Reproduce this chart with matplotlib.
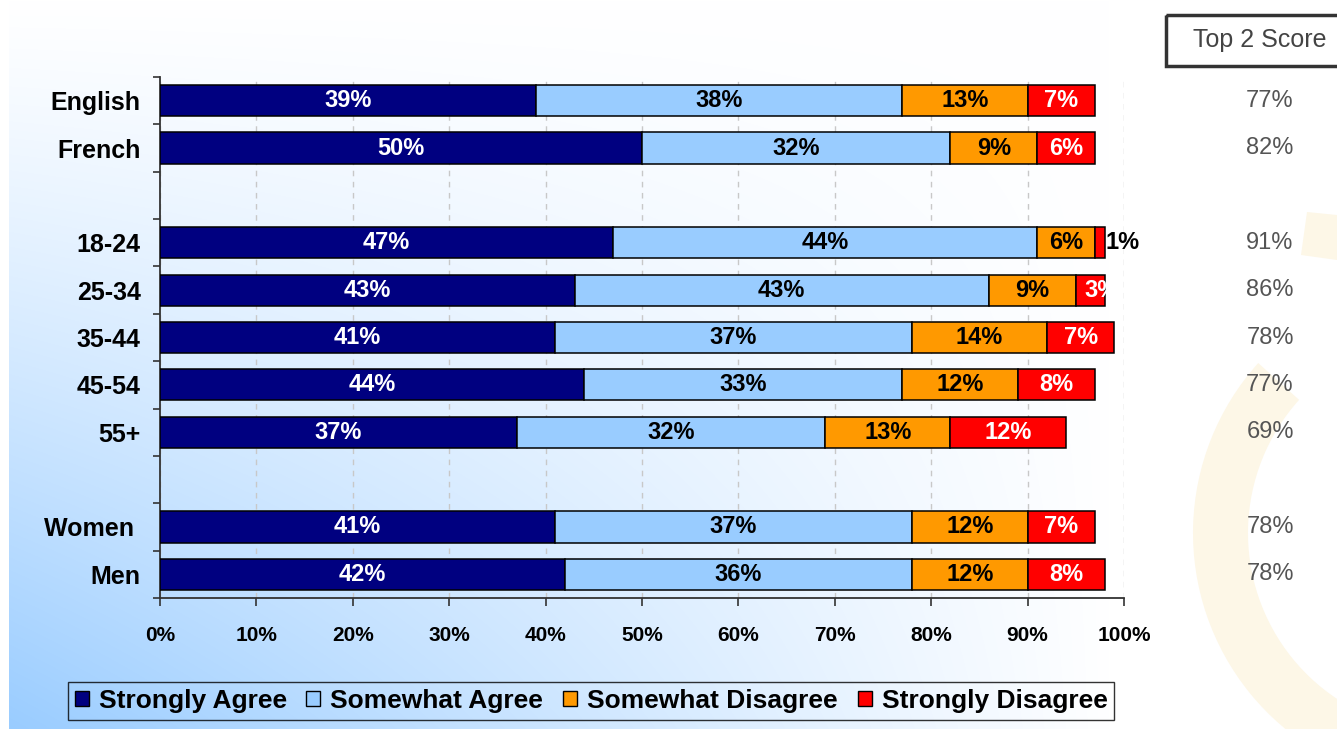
import numpy as np
import matplotlib
matplotlib.use("Agg")
import matplotlib.pyplot as plt
from matplotlib.patches import Patch, Rectangle, Wedge, Polygon
import matplotlib.transforms as mtransforms

plt.rcParams['font.family'] = ['Liberation Sans', 'DejaVu Sans']

# ---------------- data ----------------
categories = ["English", "French", "18-24", "25-34", "35-44", "45-54", "55+", "Women ", "Men"]
group_sizes = [2, 5, 2]
strongly_agree = [39, 50, 47, 43, 41, 44, 37, 41, 42]
somewhat_agree = [38, 32, 44, 43, 37, 33, 32, 37, 36]
somewhat_disagree = [13, 9, 6, 9, 14, 12, 13, 12, 12]
strongly_disagree = [7, 6, 1, 3, 7, 8, 12, 7, 8]
top2_score = [77, 82, 91, 86, 78, 77, 69, 78, 78]
series_names = ["Strongly Agree", "Somewhat Agree", "Somewhat Disagree", "Strongly Disagree"]
x_tick_values = [0, 10, 20, 30, 40, 50, 60, 70, 80, 90, 100]
x_tick_labels = ["0%", "10%", "20%", "30%", "40%", "50%", "60%", "70%", "80%", "90%", "100%"]

# ---------------- styles ----------------
colors = ["#000080", "#99CCFF", "#FF9900", "#FF0000"]
label_colors = ["white", "black", "black", "white"]

# positions: groups separated by an empty slot
positions = []
p = 0
for g in group_sizes:
    for _ in range(g):
        positions.append(p)
        p += 1
    p += 1
n_slots = p - 1

W, H = 1337, 729
fig = plt.figure(figsize=(W / 100, H / 100), dpi=100)
fig.patch.set_facecolor("white")

# background axes in pixel coordinates
bg = fig.add_axes([0, 0, 1, 1], zorder=0)
bg.set_xlim(0, W)
bg.set_ylim(H, 0)
bg.axis("off")

X, Y = np.meshgrid(np.arange(W), np.arange(H))
gx = np.clip(1 - (X - 9) / 1100.0, 0, 1)
hy = (Y / H) ** 1.19
f = gx * hy
base = np.array([153, 204, 255]) / 255.0
img = (1 - f[..., None]) * 1.0 + f[..., None] * base
img[X < 9] = 1.0
bg.imshow(img, extent=(0, W, H, 0), aspect="auto", interpolation="bilinear", zorder=0)

ring_color = "#fdf7e7"
bg.add_patch(Wedge((1447, 533), 254, 60, 222, width=55, facecolor=ring_color, edgecolor="none", zorder=1))
bg.add_patch(Polygon([(1307, 212), (1337, 215), (1337, 260), (1301, 255)], closed=True,
                     facecolor=ring_color, edgecolor="none", zorder=1))

# Top 2 Score box
bg.add_patch(Rectangle((1166, 15), 200, 51, fill=False, edgecolor="#333333", linewidth=2.5, zorder=2))
bg.text(1260, 40, "Top 2 Score", ha="center", va="center", fontsize=18, color="#444444", zorder=3)

# main axes
ax = fig.add_axes([160 / W, 1 - 598 / H, 964 / W, 521 / H], zorder=1)
ax.patch.set_alpha(0)

series = [strongly_agree, somewhat_agree, somewhat_disagree, strongly_disagree]
left = np.zeros(len(categories))
for si, vals in enumerate(series):
    vals = np.array(vals, dtype=float)
    bars = ax.barh(positions, vals, left=left, height=0.66, color=colors[si],
                   edgecolor="black", linewidth=1.1, zorder=3)
    for bi, (rect, v) in enumerate(zip(bars, vals)):
        y = positions[bi]
        txt = f"{int(v)}%"
        if v < 2:
            ax.text(left[bi] + v + 0.1, y, txt, ha="left", va="center", fontsize=17,
                    fontweight="bold", color="black", zorder=5, clip_on=False)
        elif v < 5:
            t = ax.text(left[bi] + 0.9, y, txt, ha="left", va="center", fontsize=17,
                        fontweight="bold", color=label_colors[si], zorder=5)
            t.set_clip_path(rect)
        else:
            ax.text(left[bi] + v / 2, y, txt, ha="center", va="center", fontsize=17,
                    fontweight="bold", color=label_colors[si], zorder=5)
    left = left + vals

ax.set_xlim(0, 100)
ax.set_ylim(n_slots - 0.5, -0.5)

ax.set_xticks(x_tick_values)
ax.set_xticklabels(x_tick_labels, fontsize=15, fontweight="bold")
ax.tick_params(axis="x", direction="out", length=6, width=1.2, color="#333333", pad=14)

ax.set_yticks(np.arange(-0.5, n_slots, 1.0))
ax.set_yticklabels([])
ax.set_yticks(positions, minor=True)
ax.set_yticklabels(categories, minor=True, fontsize=18, fontweight="bold")
ax.tick_params(axis="y", which="major", direction="out", length=5, width=1.2, color="#333333")
ax.tick_params(axis="y", which="minor", length=0, pad=14)

ax.xaxis.grid(True, color="#c8c8c8", linestyle=(0, (4, 4)), linewidth=1)
ax.set_axisbelow(True)
for s in ["top", "right"]:
    ax.spines[s].set_visible(False)
for s in ["left", "bottom"]:
    ax.spines[s].set_color("#333333")
    ax.spines[s].set_linewidth(1.3)

# top-2 values
trans = mtransforms.blended_transform_factory(fig.transFigure, ax.transData)
for pos, v in zip(positions, top2_score):
    ax.text(1270 / W, pos, f"{v}%", transform=trans, ha="center", va="center",
            fontsize=17, color="#555555", clip_on=False)

# legend
handles = [Patch(facecolor=c, edgecolor="black", linewidth=1.0) for c in colors]
leg = fig.legend(handles, series_names, loc="center", bbox_to_anchor=(591 / W, 1 - 701 / H),
                 ncol=4, frameon=True, fancybox=False, edgecolor="black", facecolor="none",
                 prop={"size": 19, "weight": "bold"}, handlelength=0.53, handleheight=0.53,
                 handletextpad=0.38, columnspacing=0.75, borderpad=0.25, borderaxespad=0)
leg.get_frame().set_linewidth(1.0)

fig.savefig("out.png", dpi=100)
